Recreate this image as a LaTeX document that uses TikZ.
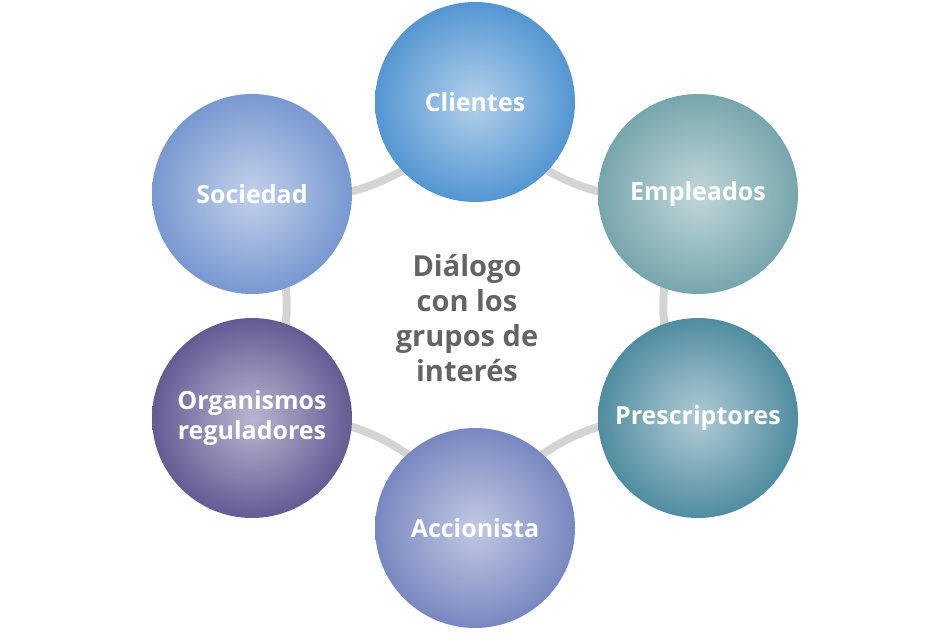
\documentclass[tikz,border=0pt]{standalone}
\usepackage{fontspec}
\setmainfont{Open Sans}
\usetikzlibrary{backgrounds}

\definecolor{cliC}{RGB}{84,150,210}
\definecolor{empC}{RGB}{118,166,172}
\definecolor{preC}{RGB}{80,140,160}
\definecolor{accC}{RGB}{120,135,192}
\definecolor{orgC}{RGB}{98,92,148}
\definecolor{socC}{RGB}{120,152,208}
\definecolor{linkC}{RGB}{212,212,212}
\definecolor{txtC}{RGB}{100,100,100}

\tikzset{
  group/.style={circle, minimum size=100pt, inner sep=0pt, align=center,
    text=white, font=\bfseries\fontsize{12.5}{15}\selectfont,
    inner color=#1!45!white, outer color=#1},
  link/.style={draw=linkC, line width=4pt, bend right=32}
}

\begin{document}
\begin{tikzpicture}[x=0.5pt,y=-0.5pt]
\useasboundingbox (0,0) rectangle (952,636);

% groups
\node[group=cliC] (cli) at (475,102) {Clientes};
\node[group=empC] (emp) at (698,194) {Empleados};
\node[group=preC] (pre) at (698,418) {Prescriptores};
\node[group=accC] (acc) at (475,528) {Accionista};
\node[group=orgC] (org) at (252,418) {Organismos\\reguladores};
\node[group=socC] (soc) at (252,194) {Sociedad};

% centre
\node[text=txtC, align=center, font=\bfseries\fontsize{14.5}{17.5}\selectfont]
  (dial) at (467,318) {Diálogo\\con los\\grupos de\\interés};

% links
\begin{scope}[on background layer]
\foreach \a/\b in {soc/cli, cli/emp, emp/pre, pre/acc, acc/org, org/soc}
  \draw[link] (\a.center) to (\b.center);
\end{scope}
\end{tikzpicture}
\end{document}
